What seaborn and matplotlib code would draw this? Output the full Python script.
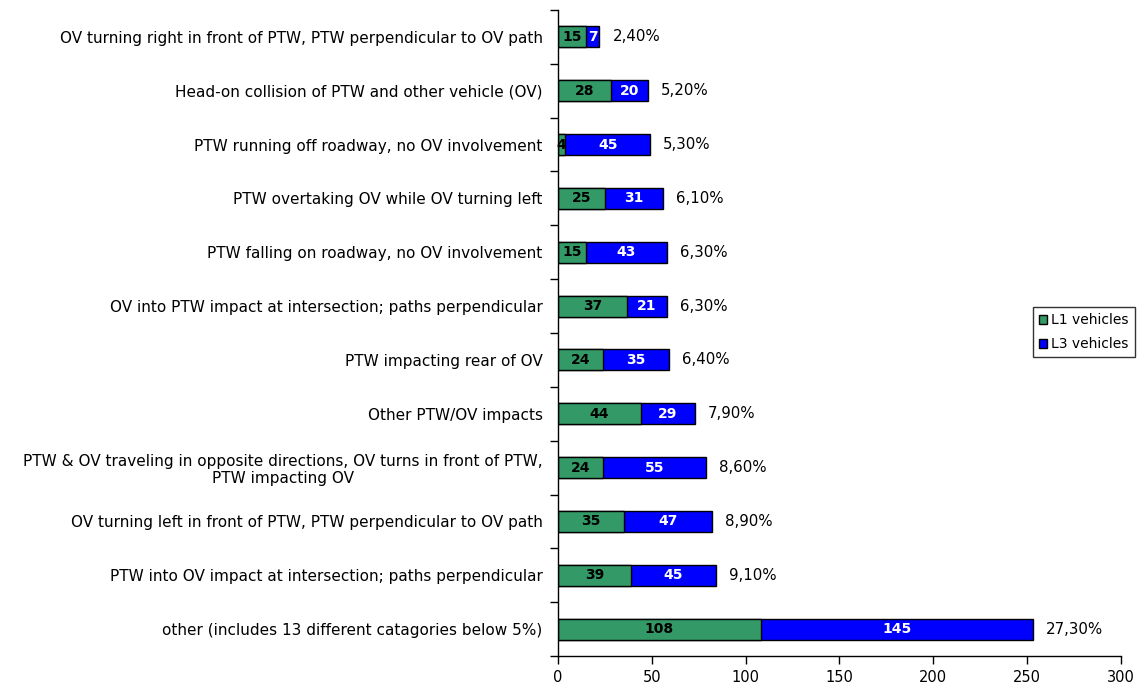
import matplotlib
matplotlib.use("Agg")
import matplotlib.pyplot as plt
import seaborn as sns
import pandas as pd
from matplotlib.patches import Patch

categories = [
    "OV turning right in front of PTW, PTW perpendicular to OV path",
    "Head-on collision of PTW and other vehicle (OV)",
    "PTW running off roadway, no OV involvement",
    "PTW overtaking OV while OV turning left",
    "PTW falling on roadway, no OV involvement",
    "OV into PTW impact at intersection; paths perpendicular",
    "PTW impacting rear of OV",
    "Other PTW/OV impacts",
    "PTW & OV traveling in opposite directions, OV turns in front of PTW,\nPTW impacting OV",
    "OV turning left in front of PTW, PTW perpendicular to OV path",
    "PTW into OV impact at intersection; paths perpendicular",
    "other (includes 13 different catagories below 5%)",
]
l1_values = [15, 28, 4, 25, 15, 37, 24, 44, 24, 35, 39, 108]
l3_values = [7, 20, 45, 31, 43, 21, 35, 29, 55, 47, 45, 145]
share_labels = ["2,40%", "5,20%", "5,30%", "6,10%", "6,30%", "6,30%",
                "6,40%", "7,90%", "8,60%", "8,90%", "9,10%", "27,30%"]
x_ticks = [0, 50, 100, 150, 200, 250, 300]

GREEN = "#339966"
BLUE = "#0000FF"

df = pd.DataFrame({"category": categories, "L1": l1_values, "L3": l3_values})
df["total"] = df["L1"] + df["L3"]

sns.set_theme(style="ticks")
plt.rcParams["font.family"] = ["DejaVu Sans"]
plt.rcParams["text.color"] = "black"
plt.rcParams["xtick.labelcolor"] = "black"
plt.rcParams["ytick.labelcolor"] = "black"

fig = plt.figure(figsize=(11.41, 6.88), dpi=100)
ax = fig.add_axes([0.489, 0.0465, 0.4935, 0.939])

sns.barplot(data=df, x="total", y="category", color=BLUE, saturation=1,
            edgecolor="black", linewidth=1, width=0.39, ax=ax, orient="h")
sns.barplot(data=df, x="L1", y="category", color=GREEN, saturation=1,
            edgecolor="black", linewidth=1, width=0.39, ax=ax, orient="h")

for i, (a, b, s) in enumerate(zip(l1_values, l3_values, share_labels)):
    ax.text(a / 2, i, str(a), ha="center", va="center", fontsize=10,
            fontweight="bold", color="black")
    ax.text(a + b / 2, i, str(b), ha="center", va="center", fontsize=10,
            fontweight="bold", color="white")
    ax.text(a + b + 7, i, s, ha="left", va="center", fontsize=10.8,
            color="black")

ax.set_xlim(0, 300)
ax.set_ylim(len(categories) - 0.5, -0.5)
ax.set_xticks(x_ticks)
ax.set_xticklabels([str(t) for t in x_ticks], fontsize=10.5)
ax.set_yticks(range(len(categories)))
ax.set_yticklabels(categories, fontsize=11)
for lab in ax.get_yticklabels():
    lab.set_multialignment("center")
ax.tick_params(axis="y", which="major", length=0, pad=11)
# boundary ticks
ax.set_yticks([i + 0.5 for i in range(-1, len(categories))], minor=True)
ax.tick_params(axis="y", which="minor", length=6, width=1, color="black", direction="out")
ax.tick_params(axis="x", length=6, width=1, color="black", direction="out", pad=4)
ax.set_xlabel("")
ax.set_ylabel("")
sns.despine(ax=ax, top=True, right=True)
ax.spines["left"].set_color("black")
ax.spines["bottom"].set_color("black")
ax.spines["left"].set_linewidth(1)
ax.spines["bottom"].set_linewidth(1)

handles = [Patch(facecolor=GREEN, edgecolor="black", label="L1 vehicles"),
           Patch(facecolor=BLUE, edgecolor="black", label="L3 vehicles")]
leg = fig.legend(handles=handles, loc="center left", bbox_to_anchor=(0.905, 0.517),
                 fontsize=10, frameon=True, fancybox=False, handlelength=0.6,
                 handleheight=0.6, handletextpad=0.3, borderpad=0.45,
                 labelspacing=0.7, borderaxespad=0)
leg.get_frame().set_edgecolor("black")
leg.get_frame().set_linewidth(1)

fig.savefig("out.png", dpi=100)
